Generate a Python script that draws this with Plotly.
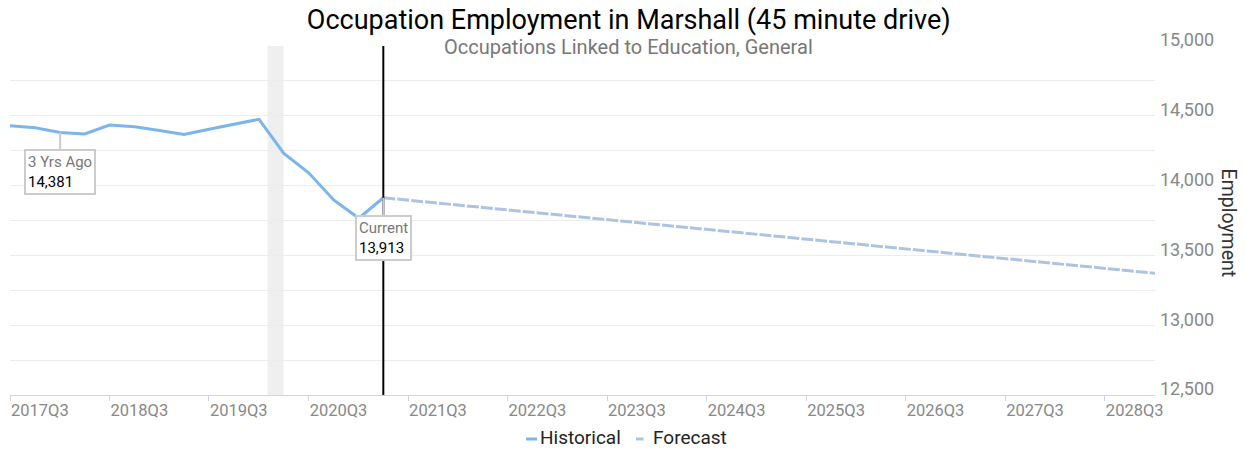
import plotly.graph_objects as go
import pandas as pd

# ---- data ----
hist_quarters = ["2017Q3", "2017Q4", "2018Q1", "2018Q2", "2018Q3", "2018Q4",
                 "2019Q1", "2019Q2", "2019Q3", "2019Q4", "2020Q1", "2020Q2",
                 "2020Q3", "2020Q4", "2021Q1", "2021Q2"]
hist_values = [14429, 14415, 14381, 14370, 14434, 14422,
               14395, 14367, 14403, 14439, 14475, 14231,
               14092, 13897, 13766, 13913]

forecast_quarters = ["2021Q2", "2029Q1"]
forecast_values = [13913, 13372]

tick_labels = ["2017Q3", "2018Q3", "2019Q3", "2020Q3", "2021Q3", "2022Q3",
               "2023Q3", "2024Q3", "2025Q3", "2026Q3", "2027Q3", "2028Q3"]

series_names = ["Historical", "Forecast"]
series_colors = ["#7cb5ec", "#adc3e0"]

recession_start = "2020-02-01"
recession_end = "2020-03-31"
current_quarter = "2021Q2"
three_yrs_quarter = "2018Q1"
three_yrs_value = 14381
current_value = 13913
x_range_quarters = ["2017Q3", "2029Q1"]


def q2date(q):
    return pd.Period(q, freq="Q").start_time.strftime("%Y-%m-%d")


hist_x = [q2date(q) for q in hist_quarters]
fc_x = [q2date(q) for q in forecast_quarters]
tick_vals = [q2date(q) for q in tick_labels]

fig = go.Figure()
fig.add_trace(go.Scatter(x=hist_x, y=hist_values, mode="lines", name=series_names[0],
                         line=dict(color=series_colors[0], width=3), showlegend=False))
fig.add_trace(go.Scatter(x=fc_x, y=forecast_values, mode="lines", name=series_names[1],
                         line=dict(color=series_colors[1], width=3, dash="12px,2px"),
                         showlegend=False))

# recession band
fig.add_shape(type="rect", xref="x", yref="paper", x0=recession_start, x1=recession_end,
              y0=0, y1=1, fillcolor="#efefef", line=dict(width=0), layer="below")
# current line
fig.add_shape(type="line", xref="x", yref="paper", x0=q2date(current_quarter),
              x1=q2date(current_quarter), y0=0, y1=1, line=dict(color="black", width=2))

ann_font = dict(family="Roboto", size=15, color="#777777")
fig.add_annotation(x=q2date(three_yrs_quarter), y=three_yrs_value,
                   text="3 Yrs Ago<br><span style='color:#000'>%s</span>" % f"{three_yrs_value:,}",
                   showarrow=True, arrowhead=0, arrowwidth=2, arrowcolor="#cccccc",
                   ax=0, ay=40, align="left", bgcolor="white", bordercolor="#cccccc",
                   borderwidth=2, borderpad=2, font=ann_font)
fig.add_annotation(x=q2date(current_quarter), y=current_value,
                   text="Current<br><span style='color:#000'>%s</span>" % f"{current_value:,}",
                   showarrow=True, arrowhead=0, arrowwidth=2, arrowcolor="#cccccc",
                   ax=0, ay=40, align="left", bgcolor="white", bordercolor="#cccccc",
                   borderwidth=2, borderpad=2, font=ann_font)

# subtitle
fig.add_annotation(xref="paper", yref="paper", x=0.5406, y=0.997, yanchor="middle",
                   text="Occupations Linked to Education, General", showarrow=False,
                   font=dict(family="Roboto", size=20, color="#777777"))
# y axis title (rotated clockwise)
fig.add_annotation(xref="paper", yref="paper", x=1.0638, y=0.494, xanchor="center",
                   yanchor="middle", text="Employment", textangle=90, showarrow=False,
                   font=dict(family="Roboto", size=19.5, color="#333333"))

# custom legend (short line symbols)
leg_y = (395 - 439) / 349
leg_sym = [(0.4507, 0.4603), (0.5467, 0.5533)]
leg_txt_x = [0.4611, 0.5596]
for name, col, (x0, x1), tx in zip(series_names, series_colors, leg_sym, leg_txt_x):
    fig.add_shape(type="line", xref="paper", yref="paper", x0=x0, x1=x1, y0=leg_y, y1=leg_y,
                  line=dict(color=col, width=3))
    fig.add_annotation(xref="paper", yref="paper", x=tx, y=(395 - 437) / 349,
                       xanchor="left", yanchor="middle", text=name, showarrow=False,
                       font=dict(family="Roboto", size=19, color="#222222"))

fig.update_layout(
    width=1245, height=451,
    margin=dict(l=10, r=90, t=46, b=56, autoexpand=False),
    paper_bgcolor="white", plot_bgcolor="white",
    font=dict(family="Roboto", color="#333333"),
    title=dict(text="Occupation Employment in Marshall (45 minute drive)",
               x=0.505, xanchor="center", y=1 - 20 / 451, yref="container", yanchor="middle",
               font=dict(family="Roboto", size=27, color="#000000")),
    showlegend=False,
    xaxis=dict(type="date", range=[q2date(x_range_quarters[0]), q2date(x_range_quarters[1])],
               tickvals=tick_vals, ticktext=tick_labels, showgrid=False, showline=True,
               linecolor="#ccd6eb", linewidth=1, ticks="outside", ticklen=5, tickcolor="#ccd6eb",
               ticklabelposition="outside right", automargin=False,
               tickfont=dict(family="Roboto", size=16.5, color="#888888"), zeroline=False),
    yaxis=dict(side="right", range=[12500, 15000], dtick=500, tick0=12500, tickformat=",d",
               showgrid=True, gridcolor="#ececec", gridwidth=1,
               minor=dict(dtick=250, showgrid=True, gridcolor="#ececec", gridwidth=1),
               showline=False, zeroline=False, ticks="", ticklabelstandoff=4, ticklabelshift=-6,
               automargin=False,
               tickfont=dict(family="Roboto", size=18, color="#888888")),
)

fig.write_html("out.html", config={"displayModeBar": False},
               post_script="document.body.style.margin='0px';")
